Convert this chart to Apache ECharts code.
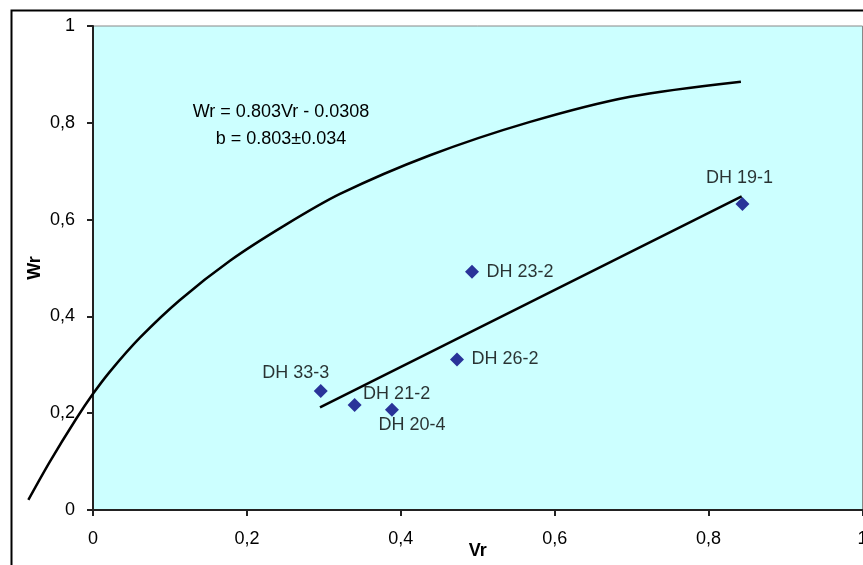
<!DOCTYPE html>
<html>
<head>
<meta charset="utf-8">
<script src="https://cdn.jsdelivr.net/npm/echarts@6/dist/echarts.min.js"></script>
<style>
  html, body { margin: 0; padding: 0; background: #fff; }
  #chart { width: 863px; height: 565px; }
</style>
</head>
<body>
<div id="chart"></div>
<script>
// samples
var names = ['DH 19-1', 'DH 23-2', 'DH 26-2', 'DH 33-3', 'DH 21-2', 'DH 20-4'];
var vr = [0.844, 0.4925, 0.473, 0.296, 0.340, 0.3885];
var wr = [0.632, 0.492, 0.311, 0.246, 0.217, 0.207];

// regression line (Wr = 0.803Vr - 0.0308)
var fitX = [0.295, 0.843];
var fitY = [0.212, 0.648];

// upper curve (starts left of the y axis)
var curveX = [-0.084, -0.056, -0.022, 0, 0.022, 0.061, 0.113, 0.178, 0.247, 0.321, 0.438, 0.568, 0.698, 0.842];
var curveY = [0.021, 0.1, 0.188, 0.24, 0.286, 0.356, 0.434, 0.515, 0.586, 0.653, 0.733, 0.802, 0.854, 0.885];

var eqLine1 = 'Wr = 0.803Vr - 0.0308';
var eqLine2 = 'b = 0.803\u00b10.034';

// label offsets from the marker centre (px)
var labelOffset = {
  'DH 19-1': [-3, -26],
  'DH 23-2': [48, 0],
  'DH 26-2': [48, 0],
  'DH 33-3': [-25, -18],
  'DH 21-2': [42, -11],
  'DH 20-4': [20, 15]
};

var font = 'Liberation Sans, Arial, sans-serif';
var plotLeft = 93, plotTop = 26, plotW = 769.5, plotH = 484;
var chart = echarts.init(document.getElementById('chart'));

function pairs(xs, ys) {
  return xs.map(function (x, i) { return [x, ys[i]]; });
}

function comma(v) {
  return String(v).replace('.', ',');
}

var axisStyle = {
  axisLine: { show: true, onZero: false, lineStyle: { color: '#222', width: 2 } },
  axisTick: { show: true, length: 6, lineStyle: { color: '#222', width: 2 } },
  splitLine: { show: false }
};

var option = {
  animation: false,
  backgroundColor: '#fff',
  textStyle: { fontFamily: font },
  grid: [
    {
      show: true,
      outerBoundsMode: 'none',
      containLabel: false,
      left: plotLeft,
      top: plotTop,
      width: plotW,
      height: plotH,
      backgroundColor: '#CCFFFF',
      borderColor: '#888',
      borderWidth: 1
    },
    {
      // same pixel mapping, x range widened to -0.1 so the curve can run past the axis
      show: false,
      outerBoundsMode: 'none',
      containLabel: false,
      left: plotLeft - 0.1 * plotW,
      top: plotTop,
      width: 1.1 * plotW,
      height: plotH
    }
  ],
  xAxis: [
    Object.assign({
      type: 'value',
      gridIndex: 0,
      min: 0,
      max: 1,
      interval: 0.2,
      name: 'Vr',
      nameLocation: 'middle',
      nameGap: 32,
      nameMoveOverlap: false,
      nameTextStyle: { fontSize: 18, fontWeight: 'bold', color: '#000', fontFamily: font },
      axisLabel: { fontSize: 18, color: '#000', margin: 20, fontFamily: font, formatter: comma }
    }, axisStyle),
    { type: 'value', gridIndex: 1, min: -0.1, max: 1, show: false }
  ],
  yAxis: [
    Object.assign({
      type: 'value',
      gridIndex: 0,
      min: 0,
      max: 1,
      interval: 0.2,
      name: 'Wr',
      nameLocation: 'middle',
      nameGap: 49,
      nameMoveOverlap: false,
      nameTextStyle: { fontSize: 18, fontWeight: 'bold', color: '#000', fontFamily: font },
      axisLabel: { fontSize: 18, color: '#000', margin: 18, fontFamily: font, formatter: comma }
    }, axisStyle),
    { type: 'value', gridIndex: 1, min: 0, max: 1, show: false }
  ],
  graphic: [
    {
      type: 'rect',
      left: 9,
      top: 8,
      shape: { width: 900, height: 600 },
      style: { fill: 'none', stroke: '#000', lineWidth: 2 },
      silent: true
    },
    {
      type: 'text',
      x: 281,
      y: 112.5,
      style: { text: eqLine1, fontSize: 18, fontFamily: font, fill: '#000', align: 'center', verticalAlign: 'middle' }
    },
    {
      type: 'text',
      x: 281,
      y: 139,
      style: { text: eqLine2, fontSize: 18, fontFamily: font, fill: '#000', align: 'center', verticalAlign: 'middle' }
    }
  ],
  series: [
    {
      type: 'line',
      xAxisIndex: 1,
      yAxisIndex: 1,
      data: pairs(curveX, curveY),
      smooth: 0.3,
      clip: false,
      symbol: 'none',
      lineStyle: { color: '#000', width: 2.5 },
      z: 3
    },
    {
      type: 'line',
      data: pairs(fitX, fitY),
      symbol: 'none',
      lineStyle: { color: '#000', width: 2.5 },
      z: 3
    },
    {
      type: 'scatter',
      symbol: 'diamond',
      symbolSize: 14,
      itemStyle: { color: '#000080' },
      data: names.map(function (n, i) {
        return {
          name: n,
          value: [vr[i], wr[i]],
          label: { offset: labelOffset[n] }
        };
      }),
      label: {
        show: true,
        position: 'inside',
        color: '#000',
        fontSize: 18,
        fontFamily: font,
        formatter: '{b}'
      },
      z: 4
    }
  ]
};

chart.setOption(option);
</script>
</body>
</html>
